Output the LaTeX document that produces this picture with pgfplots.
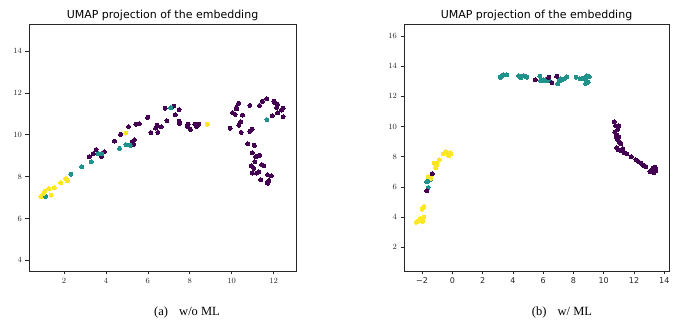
\documentclass[border=0pt]{standalone}
\usepackage{fontspec}
\setmainfont{Liberation Serif}
\newfontfamily\djv{DejaVu Sans}
\usepackage{pgfplots}
\pgfplotsset{compat=1.18}
\definecolor{vpur}{HTML}{440154}
\definecolor{vteal}{HTML}{21918C}
\definecolor{vyel}{HTML}{FDE725}
\pgfplotsset{
  umap/.style={
    scale only axis,
    anchor=south west,
    height=247pt,
    tick align=outside,
    tick pos=left,
    major tick length=3.5pt,
    axis line style={black!85, line width=0.6pt},
    every tick/.style={black!85, line width=0.5pt},
    ticklabel style={font=\djv\fontsize{8}{9}\selectfont, text=black!85},
    title={UMAP projection of the embedding},
    title style={font=\djv\fontsize{11}{12}\selectfont, at={(0.5,1)}, anchor=base, yshift=-0.5pt},
    clip=true,
  },
  pts/.style={only marks, mark=*, mark size=2.0pt, color=#1, mark options={solid, draw=#1, fill=#1, line width=0pt}},
}
\begin{document}
\begin{tikzpicture}[x=1pt,y=1pt]
\useasboundingbox (0,0) rectangle (697,323);
% ---------- (a) w/o ML ----------
\begin{axis}[umap, at={(29pt,52pt)}, width=267pt,
  xmin=0.33, xmax=13.07, ymin=3.49, ymax=15.29,
  xtick={2,4,6,8,10,12}, ytick={4,6,8,10,12,14}]
\addplot[pts=vpur] coordinates {
(3.20,8.95) (3.40,9.10) (3.53,9.29) (3.79,8.95) (3.93,9.19) (4.41,9.70) (4.70,10.02)
(5.08,10.39) (5.25,9.67) (5.32,9.54) (5.36,9.75) (5.43,10.50) (5.59,10.53) (5.99,10.83)
(6.15,10.10) (6.37,10.32) (6.45,10.45) (6.63,10.37) (6.48,10.11) (6.82,11.26) (6.91,10.67)
(7.23,11.37) (7.31,10.96) (7.49,11.20) (7.50,10.64) (7.52,10.54) (7.87,10.40) (7.93,10.50)
(8.03,10.26) (8.24,10.50) (8.32,10.39) (8.43,10.50)
(9.93,10.31) (10.04,11.05) (10.17,10.97) (10.23,11.23) (10.23,11.31) (10.33,11.50)
(10.35,10.46) (10.44,10.61) (10.52,10.94) (10.45,10.11) (10.87,11.40) (10.76,9.57)
(10.87,10.16) (10.98,10.27) (10.98,9.13) (11.08,9.49) (11.15,8.94) (11.11,8.71)
(11.23,8.98) (11.33,9.02) (10.93,8.52) (11.06,8.39) (10.99,8.17) (11.19,8.17)
(11.30,8.22) (11.39,7.84) (11.44,8.57) (11.54,8.51) (11.71,8.09) (11.89,8.03)
(11.70,7.71) (11.78,7.81) (11.73,7.68) (11.33,11.40) (11.47,11.60) (11.68,11.71)
(12.02,11.61) (12.05,11.52) (12.14,11.29) (12.19,11.45) (11.94,10.91) (12.19,11.04)
(12.38,11.18) (12.45,11.26) (12.45,10.85)
};
\addplot[pts=vteal] coordinates {
(1.12,7.06) (2.32,8.11) (2.85,8.46) (3.29,8.70) (3.64,9.08) (3.80,9.08) (4.65,9.35)
(4.95,9.53) (5.16,9.49) (7.09,11.28) (11.68,10.72)
};
\addplot[pts=vyel] coordinates {
(0.90,7.04) (1.04,7.20) (1.09,7.31) (1.27,7.42) (1.39,7.12) (1.54,7.46) (1.84,7.71)
(2.08,7.90) (2.11,7.89) (2.16,7.79) (4.95,10.08) (8.84,10.50)
};
\end{axis}
% ---------- (b) w/ ML ----------
\begin{axis}[umap, at={(404pt,52pt)}, width=265pt,
  xmin=-3.19, xmax=14.31, ymin=0.43, ymax=16.79,
  xtick={-2,0,2,4,6,8,10,12,14},
  xticklabels={−2,0,2,4,6,8,10,12,14},
  ytick={2,4,6,8,10,12,14,16}]
\addplot[pts=vteal] coordinates {
(-1.69,6.35) (-1.56,6.44) (-1.47,6.46) (-1.60,5.95)
(3.17,13.26) (3.28,13.35) (3.41,13.42) (3.59,13.42) (4.38,13.35) (4.51,13.24) (4.69,13.35)
(4.80,13.33) (4.93,13.26) (5.79,13.33) (5.83,13.02) (5.99,13.09) (6.12,13.02) (6.27,13.13)
(6.38,13.02) (6.96,12.84) (7.07,13.00) (7.16,13.15) (7.27,13.09) (7.40,13.15) (7.57,13.28)
(8.17,13.26) (8.43,13.17) (8.65,13.20) (8.83,13.17) (8.87,13.35) (8.92,12.98) (8.81,12.86)
(9.03,13.28) (8.98,12.93)
};
\addplot[pts=vpur] coordinates {
(-1.32,6.88) (-1.69,5.75)
(5.48,13.09) (6.36,13.26) (6.58,12.91) (6.89,13.33)
(10.68,10.30) (10.79,10.06) (10.73,9.62) (10.86,9.44) (10.92,9.82) (10.99,10.04)
(10.81,9.29) (10.90,9.16) (10.99,9.29) (11.03,9.00) (11.12,8.85) (10.86,8.60)
(10.97,8.45) (11.12,8.40) (11.25,8.54) (11.34,8.27) (11.52,8.18) (11.82,8.01)
(12.13,7.79) (12.30,7.68) (12.48,7.57) (12.61,7.43) (12.79,7.34) (13.05,7.01)
(13.18,7.12) (13.32,6.95) (13.41,7.30) (13.45,7.08) (13.27,7.23)
};
\addplot[pts=vyel] coordinates {
(-2.37,3.66) (-2.24,3.77) (-2.13,3.88) (-2.04,3.81) (-1.96,3.72) (-1.89,3.99) (-1.98,3.90)
(-2.00,4.52) (-1.87,4.70)
(-1.60,6.68) (-1.41,6.57) (-1.19,7.57) (-1.05,7.41) (-0.99,7.57) (-0.86,7.79) (-0.59,8.18)
(-0.42,8.34) (-0.24,8.12) (-0.15,8.25) (-0.09,8.18) (-0.22,8.05) (-1.10,7.28)
};
\end{axis}
\node[font=\fontsize{12.5}{14}\selectfont, anchor=base] at (187,7) {(a)\hspace{0.9em}w/o ML};
\node[font=\fontsize{12.5}{14}\selectfont, anchor=base] at (562,7) {(b)\hspace{0.9em}w/ ML};
\end{tikzpicture}
\end{document}
